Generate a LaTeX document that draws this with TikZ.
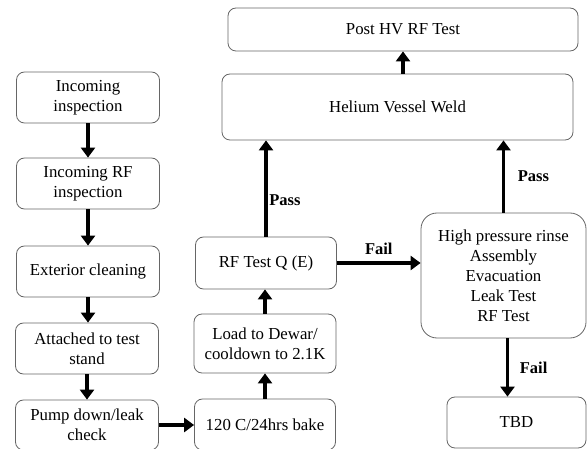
\documentclass[tikz,border=0pt]{standalone}
\usepackage{fontspec}
\setmainfont{Liberation Serif}
\usetikzlibrary{arrows.meta}
\begin{document}
\begin{tikzpicture}[x=1pt,y=-1pt,
  every node/.style={draw=black!60,line width=0.8pt,rounded corners=8pt,align=center,
    font=\fontsize{16.8}{20}\selectfont,inner sep=2pt},
  caja/.style={minimum width=143pt,minimum height=51pt},
  flujo/.style={line width=3.8pt,-{Triangle[width=14pt,length=10pt]}},
  etiqueta/.style={draw=none,font=\fontsize{16.5}{20}\selectfont\bfseries}]
  \useasboundingbox (0,0) rectangle (587,449);

  % Columna izquierda
  \node[caja] (inc) at (88,97.5) {Incoming\\inspection};
  \node[caja] (incrf) at (88,183.5) {Incoming RF\\inspection};
  \node[caja] (ext) at (88,271.5) {Exterior cleaning};
  \node[caja] (att) at (87,348.5) {Attached to test\\stand};
  \node[caja,minimum height=50pt] (pump) at (87,425) {Pump down/leak\\check};

  % Columna central
  \node[caja,minimum width=141pt] (bake) at (265,424.5) {120 C/24hrs bake};
  \node[caja,minimum width=142pt,minimum height=59pt] (load) at (265,343.5) {Load to Dewar/\\cooldown to 2.1K};
  \node[caja,minimum width=141pt,minimum height=52pt] (rfq) at (266,263) {RF Test Q (E)};

  % Parte superior
  \node[minimum width=350pt,minimum height=43pt] (post) at (403,29.5) {Post HV RF Test};
  \node[minimum width=351pt,minimum height=66pt] (hvw) at (397.5,107) {Helium Vessel Weld};

  % Columna derecha
  \node[minimum width=165pt,minimum height=125pt,rounded corners=16pt] (hpr) at (503.5,275.5)
    {High pressure rinse\\Assembly\\Evacuation\\Leak Test\\RF Test};
  \node[minimum width=139pt,minimum height=51pt] (tbd) at (516.5,422.5) {TBD};

  % Flechas
  \foreach \from/\to in {inc/incrf, incrf/ext, ext/att, att/pump}
    \draw[flujo] (\from.south) -- (\from.south |- \to.north);
  \draw[flujo] (pump.east) -- (pump.east -| bake.west);
  \draw[flujo] (bake.north) -- (bake.north |- load.south);
  \draw[flujo] (load.north) -- (load.north |- rfq.south);
  \draw[flujo] (rfq.north) -- (rfq.north |- hvw.south)
    node[etiqueta,pos=0.38,right=1pt] {Pass};
  \draw[flujo] (rfq.east) -- (rfq.east -| hpr.west)
    node[etiqueta,midway,above=6pt] {Fail};
  \draw[flujo] (hpr.north) -- (hpr.north |- hvw.south)
    node[etiqueta,midway,right=12pt] {Pass};
  \draw[flujo] ([xshift=4pt]hpr.south) -- ([xshift=4pt]hpr.south |- tbd.north)
    node[etiqueta,midway,right=10pt] {Fail};
  \draw[flujo] (post.south |- hvw.north) -- (post.south);
\end{tikzpicture}
\end{document}
